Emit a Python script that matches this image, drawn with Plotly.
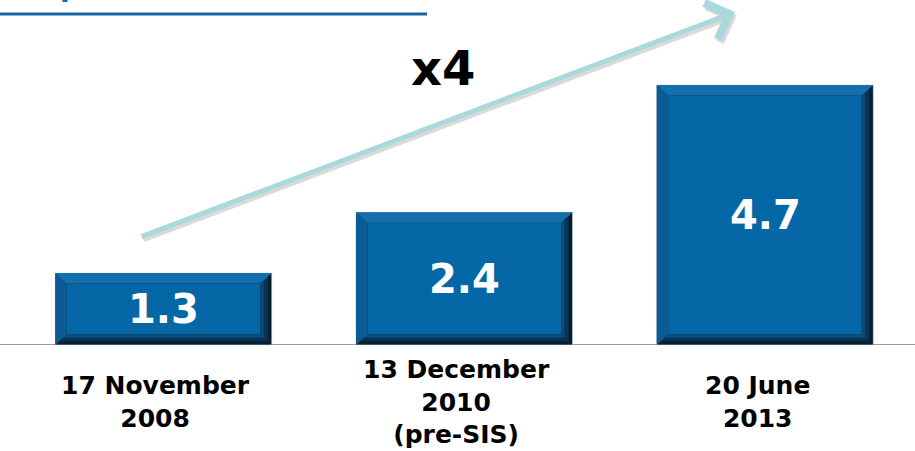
import plotly.graph_objects as go

# ---- data ----
categories = ["17 November<br>2008", "13 December<br>2010<br>(pre-SIS)", "20 June<br>2013"]
values = [1.3, 2.4, 4.7]
value_labels = ["1.3", "2.4", "4.7"]
growth_label = "x4"
title_text = "Groups (in millions)"

# ---- geometry helpers (axis units) ----
xpos = list(range(len(values)))
BAR_W = 0.72
BX = 0.038   # bevel thickness in x units
BY = 0.19    # bevel thickness in y units

FACE = "#0567a6"
fig = go.Figure()

# base bar (dark, shows as right/bottom bevel)
fig.add_trace(go.Bar(x=xpos, y=values, width=BAR_W, marker=dict(color="#061f33", line=dict(color="#c9d3dc", width=0.6)),
                     hoverinfo="skip", showlegend=False))

shapes = []
for x, v in zip(xpos, values):
    x0, x1 = x - BAR_W / 2, x + BAR_W / 2
    # right edge (gradient imitation)
    shapes.append(dict(type="path", xref="x", yref="y", line=dict(width=0), fillcolor="#0b3454",
                       path=f"M{x1-BX*0.35},{v-BY*0.35} L{x1-BX*0.35},{BY*0.35} L{x1-BX},{BY} L{x1-BX},{v-BY} Z"))
    shapes.append(dict(type="path", xref="x", yref="y", line=dict(width=0), fillcolor="#0a4a78",
                       path=f"M{x1-BX*0.7},{v-BY*0.7} L{x1-BX*0.7},{BY*0.7} L{x1-BX},{BY} L{x1-BX},{v-BY} Z"))
    # bottom edge
    shapes.append(dict(type="path", xref="x", yref="y", line=dict(width=0), fillcolor="#0a3250",
                       path=f"M{x0+BX*0.35},{BY*0.35} L{x1-BX*0.35},{BY*0.35} L{x1-BX},{BY} L{x0+BX},{BY} Z"))
    shapes.append(dict(type="path", xref="x", yref="y", line=dict(width=0), fillcolor="#08507f",
                       path=f"M{x0+BX*0.7},{BY*0.7} L{x1-BX*0.7},{BY*0.7} L{x1-BX},{BY} L{x0+BX},{BY} Z"))
    # left edge
    shapes.append(dict(type="path", xref="x", yref="y", line=dict(width=0), fillcolor="#0b5c94",
                       path=f"M{x0},0 L{x0},{v} L{x0+BX},{v-BY} L{x0+BX},{BY} Z"))
    # top edge
    shapes.append(dict(type="path", xref="x", yref="y", line=dict(width=0), fillcolor="#1470ad",
                       path=f"M{x0},{v} L{x1},{v} L{x1-BX},{v-BY} L{x0+BX},{v-BY} Z"))

# face of bar
fig.add_trace(go.Bar(x=xpos, y=[v - 2 * BY for v in values], base=[BY] * len(values), width=BAR_W - 2 * BX,
                     marker=dict(color=FACE, line=dict(width=0)), hoverinfo="skip", showlegend=False))

# title underline (paper coords)
shapes.append(dict(type="line", xref="paper", yref="paper", x0=0, x1=427 / 915, y0=(345 - 14) / 345, y1=(345 - 14) / 345,
                   line=dict(color="#1766a3", width=3)))

annotations = []
# value labels inside bars
for x, v, t in zip(xpos, values, value_labels):
    annotations.append(dict(x=x, y=v / 2, xref="x", yref="y", text=t, showarrow=False, yshift=0,
                            font=dict(family="DejaVu Sans", size=40, color="white", weight="bold")))
# category labels
for x, c in zip(xpos, categories):
    annotations.append(dict(x=x, y=(345 - 402) / 345, xref="x", yref="paper", text=c, showarrow=False, xshift=-8,
                            yanchor="middle", align="center",
                            font=dict(family="DejaVu Sans", size=25, color="black", weight="bold")))

# growth arrow (shadow + arrow)
tip = (1.900, 6.02)
tail = (-0.078, 1.95)
annotations.append(dict(x=tip[0], y=tip[1], ax=tail[0], ay=tail[1], xref="x", yref="y", axref="x", ayref="y",
                        xshift=2, yshift=-3, text="", showarrow=True, arrowhead=4, arrowsize=1.5, arrowwidth=5,
                        arrowcolor="rgba(150,150,150,0.35)"))
annotations.append(dict(x=tip[0], y=tip[1], ax=tail[0], ay=tail[1], xref="x", yref="y", axref="x", ayref="y",
                        text="", showarrow=True, arrowhead=4, arrowsize=1.5, arrowwidth=5, arrowcolor="#a9d9dc"))
annotations.append(dict(x=0.93, y=(345 - 68) / 55.3, xref="x", yref="y", text=growth_label, showarrow=False,
                        font=dict(family="DejaVu Sans", size=48, color="black", weight="bold")))
# clipped title at the top
annotations.append(dict(x=-18 / 915, y=(345 - 5) / 345, xref="paper", yref="paper", xanchor="left", yanchor="bottom",
                        text=title_text, showarrow=False,
                        font=dict(family="DejaVu Sans", size=28, color="#1766a3", weight="bold")))

fig.update_layout(
    width=915, height=451,
    margin=dict(l=0, r=0, t=0, b=106),
    paper_bgcolor="white", plot_bgcolor="white",
    barmode="overlay",
    shapes=shapes, annotations=annotations,
    xaxis=dict(range=[-163.5 / 300.75, (915 - 163.5) / 300.75], showticklabels=False, showgrid=False, zeroline=False,
               showline=False, fixedrange=True),
    yaxis=dict(range=[0, 345 / 55.3], showticklabels=False, showgrid=False, zeroline=False, fixedrange=True),
)
# baseline
fig.add_shape(type="line", xref="paper", yref="y", x0=0, x1=1, y0=0, y1=0, line=dict(color="#9a9a9a", width=2),
              layer="below")

fig.write_html("out.html", config={"displayModeBar": False},
               post_script="document.body.style.margin='0';document.body.style.overflow='hidden';")
